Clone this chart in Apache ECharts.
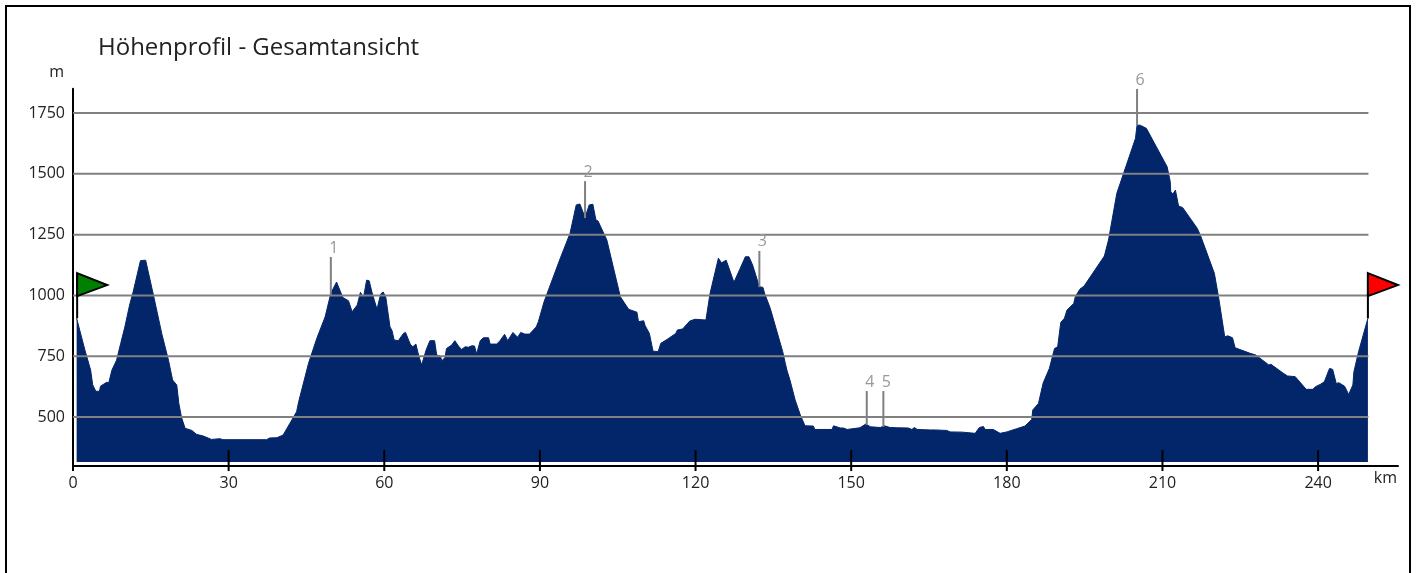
<!DOCTYPE html>
<html><head><meta charset="utf-8">
<style>html,body{margin:0;padding:0;background:#fff;overflow:hidden}#c{width:1416px;height:573px}</style>
<script src="https://cdn.jsdelivr.net/npm/echarts@6/dist/echarts.min.js"></script>
</head><body><div id="c"></div>
<script>
const FONT = '"Open Sans"';
const titleText = 'Höhenprofil - Gesamtansicht';
const xTicks = [0,30,60,90,120,150,180,210,240];
const yTicks = [500,750,1000,1250,1500,1750];
const routeEnd = 249.7;
const profile = [
[0.7,906],[2.3,775],[3.4,693],[3.8,632],[4.4,606],[5.1,606],[5.3,627],[6.5,643],[6.9,641],[7.5,693],[8.4,734],[9.2,803],[10,871],[10.9,960],[11.6,1015],[13,1143],[14,1145],[15.5,1002],[17.1,844],[18.4,734],[19.2,652],[20,632],[20.4,556],[20.9,500],[21.6,454],[22.9,445],[23.8,429],[25.1,422],[26.7,408],[28.3,411],[28.9,407],[37.3,407],[37.9,414],[39.3,415],[40.5,426],[41.8,474],[43.1,522],[43.5,563],[45.4,721],[47,824],[48.6,912],[49.7,1009],
[50.8,1055],[52,992],[53.1,978],[53.8,933],[54.8,961],[55.4,1013],[56,992],[56.6,1063],[57.1,1060],[57.6,1015],[58.6,943],[59.3,1006],[59.8,1014],[60.3,992],[61.1,871],[61.5,855],[61.9,817],[62.7,814],[63,810],[63.7,844],[64.1,848],[65,800],[65.5,789],[66.1,800],[66.6,755],[67.2,714],[67.5,714],[68.1,778],[68.8,814],[69.7,814],[70.1,755],[70.8,751],[71.1,731],[71.7,745],[72,782],[73,796],[73.6,814],[74.3,792],[74.9,778],[75.6,789],[76.2,787],[76.9,793],[77.4,792],[77.8,759],[78.5,814],[79.1,826],[80.1,826],[80.4,800],[81.7,800],[82.3,814],[83.2,840],[83.8,814],[84.8,848],[85.7,828],[86.3,848],[87.1,841],[88,841],[89.3,871],[89.7,892],[90.8,974],[93.8,1146],
[95.8,1255],[97,1372],[97.7,1376],[98.7,1321],[99.5,1372],[100.2,1375],[100.8,1310],[101.2,1306],[101.5,1312],[102.9,1228],[105.5,995],[107.1,943],[108.7,931],[109,892],[110,896],[110.3,875],[111.1,844],[111.8,771],[112.8,769],[113.3,803],[114.5,819],[116.2,844],[116.5,858],[117.5,862],[118.9,895],[119.9,902],[122,899],[122.8,1009],[124.4,1153],[125,1134],[125.9,1145],[127.4,1054],[128.6,1111],[129.6,1159],[130.3,1159],[131,1125],[132.3,1036],[133,1033],[133.3,1009],[134.4,947],[136.8,769],[137.3,721],[137.6,693],
[138.2,652],[139.2,570],[140.2,508],[141.1,464],[142.7,463],[143,449],[146.3,449],[146.6,464],[147.9,455],[148.5,455],[149.2,449],[149.4,456],[151.7,456],[152.8,471],[153.7,460],[155.6,457],[156.4,464],[157.5,457],[157.8,463],[158.8,456],[161,455],[161.7,449],[162.2,457],[162.7,449],[165.3,447],[165.6,442],[166.2,447],[168.4,445],[169.1,439],[171.4,438],[171.5,433],[173.9,433],[174.7,457],[175.5,461],[175.8,449],[177.4,449],[178.7,433],[180,439],[181.9,452],[183.5,463],[184.8,490],[185,529],[186.1,556],[187,640],[188.2,700],
[189.2,782],[189.8,789],[190.4,889],[191.1,906],[191.6,940],[192.9,967],[193.2,995],[194.1,1026],[194.9,1039],[198.8,1162],[199.6,1228],[201.2,1420],[204.8,1646],[205.1,1700],[205.7,1700],[206.9,1687],[210.9,1529],[211.5,1468],[211.6,1426],[212,1417],[212.5,1433],[212.8,1430],[213.1,1368],[213.9,1361],[216.7,1276],[217.3,1248],[220,1091],[220.8,995],[222,830],[222.6,834],[223.5,826],[224,785],[226.9,762],[228,755],[230.5,714],[230.9,717],[233.3,680],[234.1,669],[235.6,666],[237.7,614],[239,614],[239.5,625],[240.4,634],[241.2,645],[242.2,700],[242.8,696],[243.5,638],[244,641],[245.1,627],[245.9,593],[246.7,632],[246.9,686],[247.8,769],[249.6,906]
];
const markerLabels = ['1','2','3','4','5','6'];
const markerKm = [49.7,98.7,132.3,153,156.2,205.1];
const markerBase = [1002,1318,1034,467,459,1700];
const markerTop = [1158,1470,1183,607,607,1849];
const flagKm = [0.8,249.6];
const flagBase = [906,906];
const flagTop = [1092,1092];
const flagColors = ['#008000','#ff0000'];

const line = (a,b,stroke,w) => ({type:'line',shape:{x1:a[0],y1:a[1],x2:b[0],y2:b[1]},style:{stroke,lineWidth:w}});
const chart = echarts.init(document.getElementById('c'),null,{renderer:'canvas'});
chart.setOption({
  animation:false,
  backgroundColor:'#fff',
  title:{text:titleText,left:93,top:31,textStyle:{fontFamily:FONT,fontSize:24,fontWeight:'normal',color:'#222'}},
  graphic:[{type:'rect',silent:true,shape:{x:6,y:6,width:1404,height:600},style:{fill:'none',stroke:'#000',lineWidth:2},z:-1}],
  grid:{left:73,right:18,top:88.7,height:377},
  xAxis:{type:'value',min:0,max:255.4,name:'km',nameGap:0,
    nameTextStyle:{fontFamily:FONT,fontSize:16,color:'#222',align:'right',verticalAlign:'top',padding:[5,1,0,0]},
    axisLine:{show:true,onZero:false,lineStyle:{color:'#000',width:2}},
    axisTick:{show:false},splitLine:{show:false},
    axisLabel:{customValues:xTicks,margin:10,fontFamily:FONT,fontSize:16,color:'#222',formatter:v=>String(v)}},
  yAxis:{type:'value',min:300,max:1850,name:'m',nameGap:8,
    nameTextStyle:{fontFamily:FONT,fontSize:16,color:'#222',align:'right',padding:[0,9,0,0]},
    axisLine:{show:true,onZero:false,lineStyle:{color:'#000',width:2}},
    axisTick:{show:false},splitLine:{show:false},
    axisLabel:{customValues:yTicks,margin:8,fontFamily:FONT,fontSize:16,color:'#222',formatter:v=>String(v)}},
  series:[
    {type:'line',data:profile,showSymbol:false,silent:true,z:2,clip:false,
      lineStyle:{width:1,color:'#03256a'},areaStyle:{color:'#03256a',opacity:1,origin:315}},
    {type:'custom',z:3,silent:true,data:yTicks.map(v=>[v]),encode:{y:0},clip:false,
      renderItem:(p,api)=>line(api.coord([0,api.value(0)]),api.coord([routeEnd,api.value(0)]),'#808080',2)},
    {type:'custom',z:4,silent:true,data:xTicks.map(v=>[v]),encode:{x:0},clip:false,
      renderItem:(p,api)=>{const k=api.value(0);return line(api.coord([k,k===0?300:364]),api.coord([k,278]),'#000',2);}},
    {type:'custom',z:5,silent:true,data:markerKm.map((k,i)=>[k,markerBase[i],markerTop[i]]),encode:{x:0,y:1},clip:false,
      renderItem:(p,api)=>{const a=api.coord([api.value(0),api.value(1)]),b=api.coord([api.value(0),api.value(2)]);
        return {type:'group',children:[line(a,b,'#808080',2),
          {type:'text',style:{text:markerLabels[p.dataIndex],x:b[0]+3,y:b[1]-9,align:'center',verticalAlign:'middle',fontFamily:FONT,fontSize:16,fill:'#999'}}]};}},
    {type:'custom',z:6,silent:true,data:flagKm.map((k,i)=>[k,flagBase[i],flagTop[i]]),encode:{x:0,y:1},clip:false,
      renderItem:(p,api)=>{const a=api.coord([api.value(0),api.value(1)]),b=api.coord([api.value(0),api.value(2)]);
        return {type:'group',children:[line(a,b,'#000',2),
          {type:'polygon',shape:{points:[[b[0],b[1]],[b[0]+30,b[1]+12],[b[0],b[1]+23]]},style:{fill:flagColors[p.dataIndex],stroke:'#000',lineWidth:2}}]};}}
  ]
});
</script></body></html>
